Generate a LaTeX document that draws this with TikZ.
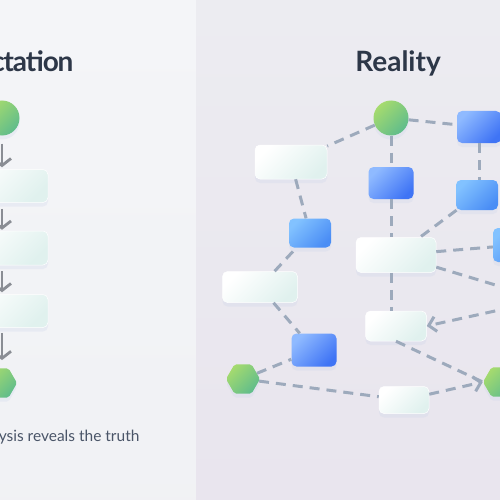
\documentclass[tikz,border=0pt]{standalone}
\usepackage{fontspec}
\setmainfont{Lato}
\usetikzlibrary{arrows.meta,shapes.geometric}

\definecolor{bgleft}{HTML}{F4F5F8}
\definecolor{bgright}{HTML}{ECECF1}
\definecolor{ink}{HTML}{2D3748}
\definecolor{inksoft}{HTML}{4A5568}
\definecolor{linkgray}{HTML}{9DAABC}
\definecolor{flowgray}{HTML}{8A8D94}
\definecolor{greenA}{HTML}{A6DB6E}
\definecolor{greenB}{HTML}{5FBC8C}
\definecolor{blueA}{HTML}{8FBAFF}
\definecolor{blueB}{HTML}{3F74F5}
\definecolor{skyA}{HTML}{82C2FF}
\definecolor{skyB}{HTML}{4A8DF5}
\definecolor{mint}{HTML}{E0F1EE}
\definecolor{haze}{HTML}{C9D3EA}

\tikzset{
  soft/.style={preaction={fill=haze,opacity=0.25,
      transform canvas={yshift=-4pt}}},
  dot/.style={circle,inner sep=0pt,minimum size=35pt,soft,
      top color=greenA,bottom color=greenB,shading angle=45},
  hexa/.style={regular polygon,regular polygon sides=6,inner sep=0pt,
      minimum size=34pt,rounded corners=2pt,soft,
      top color=greenA,bottom color=greenB,shading angle=45},
  card/.style={rectangle,rounded corners=5pt,inner sep=0pt,soft,draw=white,
      line width=0.5pt,top color=white,bottom color=mint,shading angle=45},
  tile/.style={rectangle,rounded corners=5pt,inner sep=0pt,soft,
      minimum width=45pt,minimum height=32pt,
      top color=blueA,bottom color=blueB,shading angle=45},
  skytile/.style={tile,top color=skyA,bottom color=skyB,shading angle=45},
  link/.style={draw=linkgray,line width=3pt,dash pattern=on 10pt off 7pt},
  tip/.style={-{Straight Barb[length=7pt,width=15pt]}},
  flow/.style={draw=flowgray,line width=2.8pt,
      -{Straight Barb[length=7pt,width=18pt]}}
}

\begin{document}
\begin{tikzpicture}[x=1pt,y=-1pt]
\useasboundingbox (0,0) rectangle (500,500);
\shade[top color=bgleft,bottom color=bgleft!97!gray] (0,0) rectangle (196,500);
\shade[top color=bgright,bottom color=bgright!97!violet] (196,0) rectangle (500,500);

% expectation
\node[anchor=base east,text=ink,
  font=\bfseries\fontsize{28}{32}\selectfont\addfontfeature{LetterSpace=-4}]
  (exptitle) at (77,72) {Expectation};
\node[dot] (e0) at (2,118) {};
\node[card,minimum width=92pt,minimum height=33pt] (e1) at (2,186) {};
\node[card,minimum width=92pt,minimum height=34pt] (e2) at (2,248) {};
\node[card,minimum width=92pt,minimum height=33pt] (e3) at (2,311) {};
\node[hexa] (e4) at (0,383) {};
\draw[flow,shorten <=8pt,shorten >=2pt] (e0) -- (e1);
\draw[flow,shorten <=6pt,shorten >=1pt] (e1) -- (e2);
\draw[flow,shorten <=6pt,shorten >=2pt] (e2) -- (e3);
\draw[flow,shorten <=5pt,shorten >=8pt] (e3) -- (e3 |- e4.north);
\node[anchor=base east,text=inksoft,font=\fontsize{15.5}{19}\selectfont]
  (exptext) at (143,441) {Analysis reveals the truth};

% reality
\node[anchor=base,text=ink,font=\bfseries\fontsize{28}{32}\selectfont]
  (realtitle) at (398,72) {Reality};
\node[dot] (c) at (391,118) {};
\node[tile,minimum width=44pt] (b1) at (479,127) {};
\node[tile] (b2) at (391,183) {};
\node[skytile,minimum width=42pt,minimum height=30pt] (b3) at (477,195) {};
\node[skytile,minimum width=46pt,minimum height=34pt] (b4) at (516,245) {};
\node[card,minimum width=72pt,minimum height=34pt] (w1) at (291,162) {};
\node[skytile,minimum width=42pt,minimum height=29pt] (b5) at (310,233) {};
\node[card,minimum width=75pt,minimum height=31pt] (w2) at (260,287) {};
\node[card,minimum width=80pt,minimum height=35pt] (w3) at (396,255) {};
\node[card,minimum width=61pt,minimum height=30pt] (w4) at (396,326) {};
\node[tile,minimum height=33pt] (b6) at (314,350) {};
\node[hexa] (h1) at (243,379) {};
\node[card,minimum width=50pt,minimum height=27pt] (w5) at (404,400) {};
\node[hexa] (h2) at (500,382) {};
\coordinate (off) at (545,300);

\draw[link] (c) -- (w1);
\draw[link] (c) -- (b1);
\draw[link] (c) -- (b2);
\draw[link] (b1) -- (b1 |- b3.north);
\draw[link] (w1) -- (b5);
\draw[link] (b2) -- (b2 |- w3.north);
\draw[link] (b3) -- (w3);
\draw[link] (w3) -- (b4);
\draw[link] (w3) -- (off);
\draw[link,tip] (off) -- (w4.east);
\draw[link] (b2 |- w3.south) -- (b2 |- w4.north);
\draw[link] (w2) -- (b5);
\draw[link] (w2) -- (b6);
\draw[link] (h1) -- (b6);
\draw[link] (h1) -- (w5);
\draw[link,tip] (w5) -- (h2.west);
\draw[link] (w4.south) -- (h2.west);
\end{tikzpicture}
\end{document}
